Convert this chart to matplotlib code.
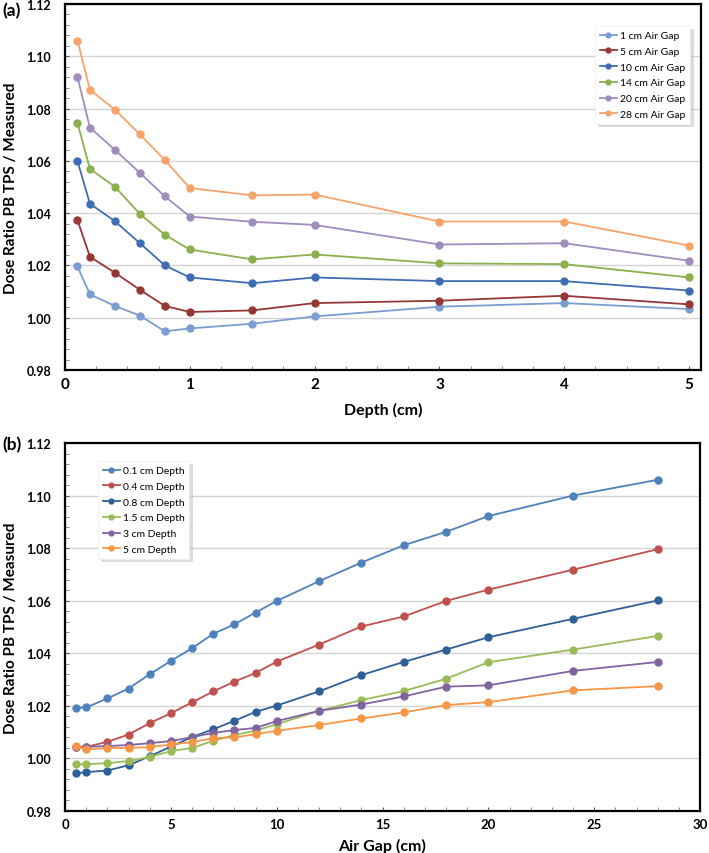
import matplotlib
matplotlib.use("Agg")
import matplotlib.pyplot as plt
from matplotlib.ticker import MultipleLocator, FormatStrFormatter

plt.rcParams['font.family'] = ['Lato', 'DejaVu Sans']

# ---------------- Data: panel (a) ----------------
depths = [0.1, 0.2, 0.4, 0.6, 0.8, 1.0, 1.5, 2, 3, 4, 5]
gap_labels = ["1 cm Air Gap", "5 cm Air Gap", "10 cm Air Gap",
              "14 cm Air Gap", "20 cm Air Gap", "28 cm Air Gap"]
gap_1 = [1.0196, 1.0089, 1.0045, 1.0008, 0.9948, 0.9959, 0.9977, 1.0005, 1.0042, 1.0056, 1.0033]
gap_5 = [1.0373, 1.0233, 1.0172, 1.0107, 1.0045, 1.0022, 1.0028, 1.0056, 1.0065, 1.0084, 1.0051]
gap_10 = [1.0599, 1.0436, 1.0369, 1.0285, 1.0200, 1.0154, 1.0132, 1.0154, 1.0140, 1.0140, 1.0104]
gap_14 = [1.0745, 1.0569, 1.0501, 1.0397, 1.0317, 1.0261, 1.0223, 1.0242, 1.0208, 1.0205, 1.0154]
gap_20 = [1.0921, 1.0727, 1.0642, 1.0554, 1.0464, 1.0387, 1.0367, 1.0355, 1.0280, 1.0285, 1.0218]
gap_28 = [1.1060, 1.0871, 1.0796, 1.0701, 1.0603, 1.0496, 1.0468, 1.0471, 1.0368, 1.0368, 1.0276]
gap_colors = ["#7B9DD0", "#953735", "#3E6DB3", "#8CB04E", "#A08DBE", "#F7A36C"]

# ---------------- Data: panel (b) ----------------
air_gaps = [0.5, 1, 2, 3, 4, 5, 6, 7, 8, 9, 10, 12, 14, 16, 18, 20, 24, 28]
depth_labels = ["0.1 cm Depth", "0.4 cm Depth", "0.8 cm Depth",
                "1.5 cm Depth", "3 cm Depth", "5 cm Depth"]
d_01 = [1.0192, 1.0194, 1.0228, 1.0266, 1.0320, 1.0371, 1.0419, 1.0474, 1.0510, 1.0555,
        1.0599, 1.0674, 1.0745, 1.0811, 1.0862, 1.0922, 1.1000, 1.1060]
d_04 = [1.0042, 1.0044, 1.0063, 1.0091, 1.0134, 1.0172, 1.0213, 1.0255, 1.0292, 1.0325,
        1.0368, 1.0433, 1.0502, 1.0540, 1.0599, 1.0642, 1.0718, 1.0796]
d_08 = [0.9943, 0.9948, 0.9954, 0.9974, 1.0008, 1.0045, 1.0081, 1.0111, 1.0143, 1.0177,
        1.0201, 1.0255, 1.0317, 1.0367, 1.0414, 1.0461, 1.0531, 1.0601]
d_15 = [0.9978, 0.9978, 0.9982, 0.9990, 1.0005, 1.0028, 1.0040, 1.0067, 1.0089, 1.0106,
        1.0130, 1.0181, 1.0222, 1.0256, 1.0303, 1.0366, 1.0414, 1.0466]
d_3 = [1.0045, 1.0044, 1.0047, 1.0051, 1.0058, 1.0066, 1.0081, 1.0097, 1.0108, 1.0116,
       1.0142, 1.0181, 1.0205, 1.0236, 1.0273, 1.0278, 1.0333, 1.0367]
d_5 = [1.0048, 1.0034, 1.0040, 1.0040, 1.0043, 1.0053, 1.0062, 1.0077, 1.0080, 1.0092,
       1.0105, 1.0127, 1.0152, 1.0175, 1.0203, 1.0214, 1.0259, 1.0275]
depth_colors = ["#4F81BD", "#C0504D", "#2F5F98", "#9BBB59", "#8064A2", "#F79646"]

fig = plt.figure(figsize=(7.09, 8.54), dpi=100)
ax_a = fig.add_axes([65/709, (854-371)/854, (701-65)/709, (371-5)/854])
ax_b = fig.add_axes([65/709, (854-812)/854, (700-65)/709, (812-444)/854])


def style_axes(ax, xmax, xmajor, xminor, xtick_size):
    ax.set_ylim(0.98, 1.12)
    ax.set_xlim(0, xmax)
    ax.yaxis.set_major_locator(MultipleLocator(0.02))
    ax.yaxis.set_minor_locator(MultipleLocator(0.004))
    ax.yaxis.set_major_formatter(FormatStrFormatter('%.2f'))
    ax.xaxis.set_major_locator(MultipleLocator(xmajor))
    ax.xaxis.set_minor_locator(MultipleLocator(xminor))
    ax.grid(axis='y', which='major', color='#D4D4D4', linewidth=1.0)
    ax.set_axisbelow(True)
    for s in ax.spines.values():
        s.set_linewidth(1.6)
        s.set_color('black')
    ax.tick_params(axis='both', which='both', direction='in', top=False, right=False)
    ax.tick_params(axis='both', which='major', length=3, width=0.8, color='#555555')
    ax.tick_params(axis='both', which='minor', length=3, width=0.6, color='#777777')
    ax.tick_params(axis='y', which='major', labelsize=9, pad=10)
    ax.tick_params(axis='x', which='major', labelsize=xtick_size, pad=5)
    for lab in ax.get_xticklabels() + ax.get_yticklabels():
        lab.set_fontweight('bold')
    ax.set_ylabel("Dose Ratio PB TPS / Measured", fontsize=11, fontweight='bold', labelpad=6)


# Panel (a)
series_a = [gap_1, gap_5, gap_10, gap_14, gap_20, gap_28]
for vals, lab, col in zip(series_a, gap_labels, gap_colors):
    ax_a.plot(depths, vals, color=col, lw=1.3, marker='o', ms=5, label=lab)
style_axes(ax_a, 5.096, 1, 0.25, 11)
ax_a.set_xlabel("Depth (cm)", fontsize=11.5, fontweight='bold', labelpad=8)
leg_a = ax_a.legend(loc='upper left', bbox_to_anchor=((590-65)/636, 1 - (22-5)/366),
                    fontsize=7.5, frameon=True, fancybox=False, handlelength=1.6,
                    handletextpad=0.3, labelspacing=0.62, borderpad=0.45,
                    shadow={'color': '#BBBBBB', 'alpha': 0.5}, markerscale=0.7)
leg_a.get_frame().set_edgecolor('#EEEEEE')
leg_a.get_frame().set_linewidth(0.5)

# Panel (b)
series_b = [d_01, d_04, d_08, d_15, d_3, d_5]
for vals, lab, col in zip(series_b, depth_labels, depth_colors):
    ax_b.plot(air_gaps, vals, color=col, lw=1.3, marker='o', ms=5, label=lab)
style_axes(ax_b, 30, 5, 1, 9.5)
ax_b.set_xlabel("Air Gap (cm)", fontsize=11.5, fontweight='bold', labelpad=6)
leg_b = ax_b.legend(loc='upper left', bbox_to_anchor=((93-65)/635, 1 - (457-444)/368),
                    fontsize=7.5, frameon=True, fancybox=False, handlelength=1.6,
                    handletextpad=0.3, labelspacing=0.62, borderpad=0.45,
                    shadow={'color': '#BBBBBB', 'alpha': 0.5}, markerscale=0.7)
leg_b.get_frame().set_edgecolor('#EEEEEE')
leg_b.get_frame().set_linewidth(0.5)

fig.text(2/709, 1 - 11/854, "(a)", fontsize=12.5, fontweight='bold', va='center', ha='left')
fig.text(2/709, 1 - 445/854, "(b)", fontsize=12.5, fontweight='bold', va='center', ha='left')

fig.savefig("out.png", dpi=100)
